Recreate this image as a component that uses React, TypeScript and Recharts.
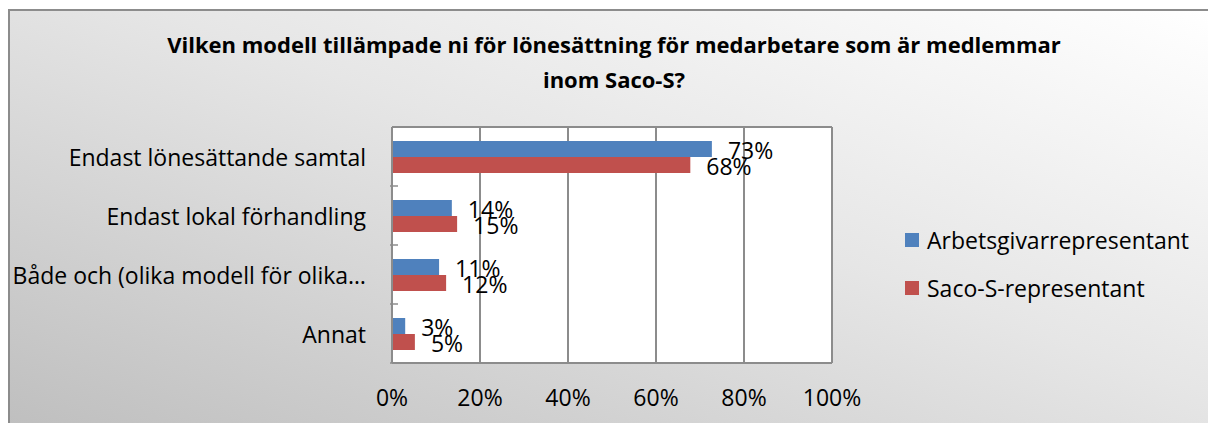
import { Bar, BarChart, CartesianGrid, LabelList, XAxis, YAxis } from 'recharts';

const categories = ['Endast lönesättande samtal', 'Endast lokal förhandling', 'Både och (olika modell för olika…', 'Annat'];
const employerValues = [72.7, 13.6, 10.7, 3.0];
const sacoValues = [67.8, 14.8, 12.3, 5.2];
const xTicks = [0, 20, 40, 60, 80, 100];
const seriesNames = ['Arbetsgivarrepresentant', 'Saco-S-representant'];

const BLUE = '#4f81bd';
const RED = '#c0504d';
const GRID = '#8c8c8c';
const FONT = '"Open Sans", Lato, sans-serif';
const FS = 23;

const CHART_W = 1200;
const CHART_H = 414;
const X_AXIS_H = 30;
const MARGIN = { top: 116, right: 378, bottom: 62 - X_AXIS_H, left: 0 };
const Y_AXIS_W = 382;
const BAND = (CHART_H - 62 - MARGIN.top) / categories.length;

const data = categories.map((name, i) => ({
  name,
  employer: employerValues[i],
  saco: sacoValues[i],
}));

function CategoryTick({ x, y, payload }: { x?: number; y?: number; payload?: { value: string } }) {
  const px = Number(x);
  const py = Number(y);
  return (
    <g>
      <text x={px - 24} y={py} textAnchor="end" dominantBaseline="central" fontSize={FS} fill="#000" fontFamily={FONT}>
        {payload?.value}
      </text>
      <line x1={px} x2={px + 8} y1={py + BAND / 2} y2={py + BAND / 2} stroke={GRID} strokeWidth={1.5} />
    </g>
  );
}

function ValueLabel(props: any) {
  const { x, y, width, height, value } = props;
  return (
    <text
      x={Number(x) + Number(width) + 16}
      y={Number(y) + Number(height) / 2 + 1}
      dominantBaseline="central"
      fontSize={FS}
      fill="#000"
      fontFamily={FONT}
    >
      {`${Math.round(Number(value))}%`}
    </text>
  );
}

function LegendBox() {
  const colors = [BLUE, RED];
  return (
    <div style={{ position: 'absolute', left: 895, top: 205, fontFamily: FONT, fontSize: FS, color: '#000' }}>
      {seriesNames.map((n, i) => (
        <div key={n} style={{ height: 48, display: 'flex', alignItems: 'center', whiteSpace: 'nowrap' }}>
          <span style={{ width: 14, height: 14, background: colors[i], marginRight: 8, display: 'inline-block' }} />
          {n}
        </div>
      ))}
    </div>
  );
}

export default function App() {
  return (
    <div>
      <style>{`body{margin:0;overflow:hidden}`}</style>
      <div
        style={{
          position: 'absolute',
          left: 8,
          top: 9,
          width: CHART_W,
          height: CHART_H,
          borderLeft: `2px solid ${GRID}`,
          borderTop: `2px solid ${GRID}`,
          background: 'linear-gradient(200deg, #ffffff 0%, #e6e6e6 45%, #bfbfbf 100%)',
        }}
      >
        <div
          style={{
            position: 'absolute',
            left: 4,
            top: 16,
            width: CHART_W,
            textAlign: 'center',
            fontFamily: FONT,
            fontWeight: 700,
            fontSize: 22,
            lineHeight: '35px',
            color: '#000',
          }}
        >
          Vilken modell tillämpade ni för lönesättning för medarbetare som är medlemmar
          <br />
          inom Saco-S?
        </div>
        <BarChart
          width={CHART_W}
          height={CHART_H}
          data={data}
          layout="vertical"
          margin={MARGIN}
          barGap={0}
          barSize={16}
        >
          <CartesianGrid
            fill="#ffffff"
            stroke={GRID}
            strokeWidth={2}
            horizontalPoints={[MARGIN.top, CHART_H - 62]}
          />
          <XAxis
            type="number"
            domain={[0, 100]}
            ticks={xTicks}
            tickFormatter={(v) => `${v}%`}
            height={X_AXIS_H}
            tickLine={false}
            tickSize={0}
            tickMargin={27}
            axisLine={{ stroke: GRID, strokeWidth: 2 }}
            tick={{ fontSize: FS, fill: '#000', fontFamily: FONT }}
            interval={0}
          />
          <YAxis
            type="category"
            dataKey="name"
            width={Y_AXIS_W}
            tickLine={false}
            tickSize={0}
            axisLine={{ stroke: GRID, strokeWidth: 2 }}
            tick={<CategoryTick />}
            interval={0}
          />
          <Bar dataKey="employer" name={seriesNames[0]} fill={BLUE} isAnimationActive={false}>
            <LabelList dataKey="employer" content={<ValueLabel />} />
          </Bar>
          <Bar dataKey="saco" name={seriesNames[1]} fill={RED} isAnimationActive={false}>
            <LabelList dataKey="saco" content={<ValueLabel />} />
          </Bar>
        </BarChart>
        <LegendBox />
      </div>
    </div>
  );
}
